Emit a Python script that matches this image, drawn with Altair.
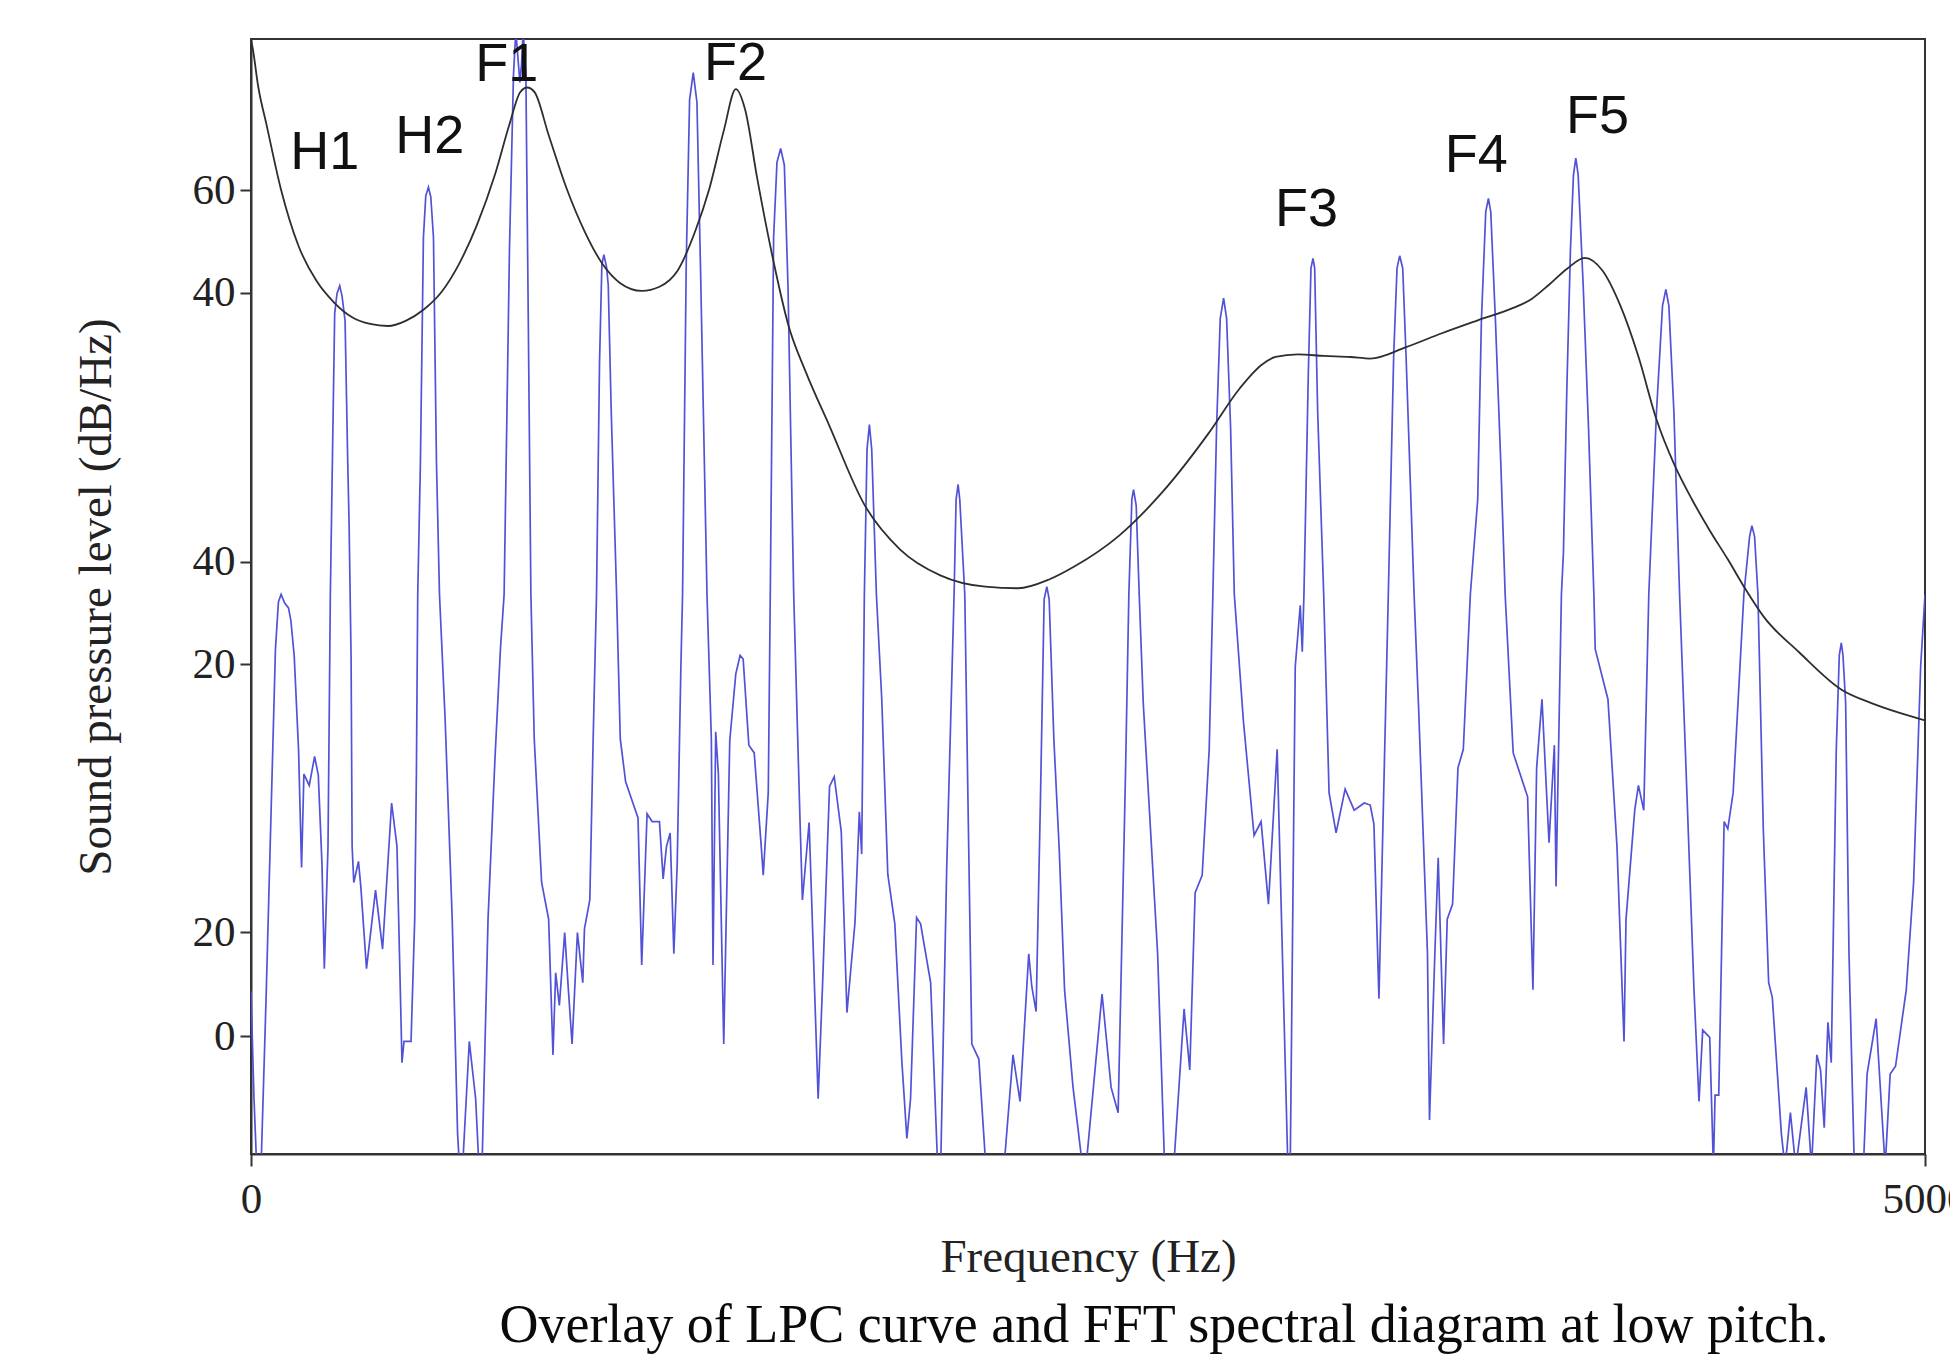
import altair as alt
import pandas as pd

# ---------------- data ----------------
# FFT spectrum (blue), frequency in Hz, level in the chart's vertical units
fft_freq = [
    0, 9, 17, 30, 45, 60, 73, 82, 90, 101,
    112, 119, 129, 142, 151, 158, 174, 190, 201, 212,
    219, 230, 237, 243, 250, 257, 265, 272, 281, 289,
    293, 299, 302, 307, 321, 328, 345, 372, 393, 420,
    436, 451, 457, 478, 489, 494, 498, 506, 515, 522,
    530, 537, 545, 554, 563, 580, 601, 617, 623, 633,
    652, 671, 681, 690, 708, 729, 745, 756, 772, 784,
    791, 799, 803, 808, 813, 821, 828, 836, 846, 868,
    889, 902, 910, 921, 937, 948, 959, 975, 991, 996,
    1012, 1022, 1032, 1041, 1048, 1054, 1062, 1067, 1076, 1092,
    1103, 1119, 1156, 1167, 1183, 1198, 1220, 1231, 1241, 1252,
    1263, 1273, 1284, 1289, 1300, 1310, 1321, 1332, 1343, 1362,
    1375, 1380, 1388, 1396, 1412, 1430, 1448, 1461, 1470, 1487,
    1503, 1524, 1530, 1545, 1551, 1561, 1571, 1582, 1593, 1604,
    1621, 1640, 1647, 1667, 1694, 1707, 1728, 1742, 1763, 1780,
    1804, 1817, 1824, 1832, 1840, 1847, 1854, 1868, 1884, 1902,
    1923, 1944, 1959, 1970, 1988, 2000, 2030, 2051, 2060, 2078,
    2100, 2106, 2112, 2117, 2132, 2142, 2153, 2174, 2195, 2249,
    2276, 2297, 2323, 2332, 2345, 2358, 2369, 2377, 2384, 2398,
    2414, 2430, 2455, 2484, 2494, 2542, 2569, 2590, 2612, 2622,
    2631, 2636, 2644, 2653, 2665, 2708, 2729, 2756, 2787, 2804,
    2820, 2841, 2862, 2873, 2884, 2895, 2905, 2914, 2926, 2937,
    2964, 2996, 3017, 3039, 3065, 3097, 3104, 3119, 3134, 3140,
    3145, 3158, 3166, 3172, 3177, 3186, 3204, 3220, 3241, 3268,
    3295, 3325, 3343, 3354, 3369, 3381, 3397, 3413, 3423, 3431,
    3440, 3450, 3474, 3488, 3514, 3520, 3536, 3546, 3562, 3573,
    3589, 3605, 3621, 3642, 3664, 3675, 3688, 3696, 3703, 3717,
    3733, 3746, 3770, 3813, 3829, 3840, 3856, 3877, 3893, 3898,
    3914, 3920, 3930, 3941, 3950, 3957, 3964, 3979, 3995, 4011,
    4015, 4053, 4080, 4101, 4107, 4133, 4144, 4160, 4175, 4198,
    4216, 4226, 4235, 4250, 4267, 4283, 4310, 4325, 4336, 4357,
    4368, 4373, 4384, 4400, 4411, 4427, 4459, 4476, 4483, 4491,
    4501, 4517, 4533, 4544, 4571, 4582, 4598, 4614, 4645, 4661,
    4677, 4688, 4699, 4710, 4720, 4735, 4744, 4750, 4755, 4763,
    4773, 4789, 4816, 4827, 4854, 4881, 4896, 4912, 4944, 4966,
    4987, 5000,
]
fft_level = [
    8.7, -12.1, -25.4, -25.4, 7.3, 43.5, 75.0, 84.2, 85.6, 83.9,
    83.0, 80.6, 73.8, 55.6, 32.7, 50.8, 48.6, 54.2, 50.6, 33.4,
    13.1, 36.8, 85.6, 111.0, 140.1, 143.9, 145.4, 143.4, 138.6, 111.0,
    99.2, 73.1, 36.8, 29.8, 33.9, 29.0, 13.1, 28.3, 16.9, 45.2,
    36.8, -5.1, -1.0, -1.0, 22.7, 50.8, 85.6, 111.0, 154.8, 162.8,
    164.5, 162.6, 154.8, 111.0, 85.6, 61.2, 22.7, -18.9, -25.4, -24.2,
    -1.0, -12.1, -25.4, -25.4, 22.7, 54.2, 75.0, 85.6, 152.4, 186.3,
    194.7, 188.2, 184.8, 188.2, 194.7, 186.3, 140.3, 85.6, 57.6, 29.8,
    22.7, -3.6, 12.3, 6.0, 20.1, 9.0, -1.5, 20.1, 10.4, 20.8,
    26.4, 57.6, 85.6, 130.6, 149.5, 151.4, 149.0, 145.6, 121.0, 85.6,
    57.6, 49.3, 42.3, 13.8, 43.1, 41.6, 41.6, 30.5, 36.8, 39.4,
    16.0, 33.4, 71.6, 85.6, 149.7, 181.4, 186.7, 180.9, 147.6, 85.6,
    57.6, 13.8, 59.0, 50.8, -1.5, 57.3, 70.2, 73.8, 73.1, 56.4,
    54.9, 36.8, 31.2, 47.2, 85.6, 154.8, 169.3, 172.0, 168.8, 145.1,
    85.6, 41.4, 26.4, 41.4, -12.1, 9.7, 48.4, 50.3, 39.7, 4.6,
    22.0, 43.5, 35.3, 85.6, 113.7, 118.5, 113.7, 85.6, 65.3, 31.4,
    21.8, -4.8, -19.8, -12.1, 23.0, 21.8, 10.4, -25.4, -25.4, 32.7,
    85.6, 104.0, 106.9, 104.0, 85.6, 43.5, -1.5, -4.4, -25.4, -25.4,
    -3.6, -12.6, 16.0, 9.7, 4.8, 46.0, 84.7, 87.1, 84.7, 57.6,
    36.3, 9.0, -9.7, -25.4, -25.4, 8.2, -9.9, -14.8, 50.8, 85.6,
    104.0, 105.9, 102.8, 85.6, 64.6, 16.0, -25.4, -25.4, 5.3, -6.5,
    27.8, 31.2, 55.6, 85.6, 117.8, 139.1, 143.0, 139.1, 117.8, 85.6,
    61.2, 38.9, 41.6, 25.6, 55.6, -25.4, -25.4, 71.6, 83.5, 74.5,
    85.6, 128.2, 148.8, 150.7, 148.8, 121.0, 85.6, 47.2, 39.4, 47.9,
    43.8, 45.2, 44.8, 41.1, 7.3, 41.1, 85.6, 131.8, 148.8, 151.2,
    148.8, 131.8, 85.6, 62.7, 16.0, -16.2, 16.0, 34.6, -1.5, 22.7,
    25.6, 52.0, 55.6, 85.6, 104.0, 138.6, 159.7, 162.3, 159.7, 138.6,
    111.0, 85.6, 54.9, 46.4, 9.0, 52.0, 65.3, 37.5, 56.4, 29.0,
    85.6, 93.6, 124.8, 152.4, 166.9, 170.1, 166.9, 145.6, 117.8, 85.6,
    75.0, 65.3, 36.8, -1.0, 22.7, 43.8, 48.6, 43.8, 85.6, 121.0,
    141.5, 144.7, 141.5, 121.0, 85.6, 57.6, 9.0, -12.6, 1.2, -0.2,
    -25.4, -11.4, -11.4, 41.6, 40.2, 47.2, 85.6, 96.8, 98.9, 96.8,
    85.6, 40.2, 10.4, 7.5, -18.9, -25.4, -14.8, -25.4, -9.9, -25.4,
    -3.6, -6.5, -17.7, 2.7, -5.1, 55.6, 73.8, 76.2, 73.8, 64.6,
    16.0, -25.4, -25.4, -7.3, 3.4, -25.4, -7.3, -5.8, 9.0, 29.8,
    71.6, 85.6,
]

# LPC envelope (black)
lpc_freq = [
    0, 4, 22, 46, 89, 142, 196, 249, 302, 356,
    409, 462, 516, 569, 622, 675, 729, 772, 804, 825,
    847, 889, 943, 996, 1049, 1103, 1167, 1220, 1274, 1327,
    1369, 1412, 1448, 1476, 1512, 1562, 1604, 1657, 1726, 1832,
    1939, 2059, 2193, 2291, 2384, 2459, 2593, 2726, 2860, 2953,
    3019, 3060, 3127, 3205, 3284, 3343, 3450, 3557, 3664, 3770,
    3824, 3877, 3931, 3984, 4037, 4091, 4144, 4197, 4251, 4304,
    4357, 4411, 4464, 4518, 4624, 4752, 4838, 4922, 5000,
]
lpc_level = [
    193.0, 191.8, 183.8, 176.7, 164.2, 153.1, 146.3, 142.1, 139.3, 138.0,
    137.6, 138.6, 140.8, 144.2, 149.7, 157.2, 167.0, 176.7, 182.9, 183.8,
    182.9, 174.6, 164.2, 156.0, 149.7, 145.9, 144.4, 145.2, 148.3, 156.0,
    164.2, 175.4, 183.5, 179.5, 166.2, 149.7, 138.0, 128.7, 118.5, 103.0,
    94.3, 89.3, 87.1, 86.8, 88.5, 91.0, 97.0, 105.7, 116.8, 125.5,
    130.1, 131.6, 132.1, 131.8, 131.6, 131.3, 133.5, 136.2, 138.7, 141.1,
    142.8, 145.6, 148.7, 150.8, 148.3, 141.4, 131.7, 119.7, 110.8, 104.0,
    98.0, 92.4, 86.6, 81.3, 74.4, 67.1, 64.6, 62.7, 61.2,
]

# peak annotations
label_text = ["H1", "H2", "F1", "F2", "F3", "F4", "F5"]
label_freq = [220, 534, 764, 1447, 3153, 3660, 4022]
label_level = [168.1, 171.2, 185.1, 185.3, 157.0, 167.4, 175.0]

# axis ticks (the reference prints these labels at these positions)
ytick_values = [0, 20.2, 72.1, 91.9, 144.0, 163.9]
ytick_labels = ["0", "20", "20", "40", "40", "60"]
xtick_values = [0, 5000]

caption_text = "Overlay of LPC curve and FFT spectral diagram at low pitch."

# ---------------- chart ----------------
fft = pd.DataFrame({"freq": fft_freq, "level": fft_level})
lpc = pd.DataFrame({"freq": lpc_freq, "level": lpc_level})
labels = pd.DataFrame({"freq": label_freq, "level": label_level, "text": label_text})
caption = pd.DataFrame({"text": [caption_text]})

label_expr = "''"
for v, lab in reversed(list(zip(ytick_values, ytick_labels))):
    label_expr = f"abs(datum.value - {v}) < 1 ? '{lab}' : ({label_expr})"

W, H = 1674, 1115

x_enc = alt.X(
    "freq:Q",
    scale=alt.Scale(domain=[0, 5000], nice=False, zero=False),
    axis=alt.Axis(
        values=xtick_values, title="Frequency (Hz)", format="d",
        labelFlush=False, labelOverlap=False, tickSize=12,
        labelPadding=46, labelBaseline="alphabetic",
        titleX=W / 2, titleY=117, titleAlign="center",
        titleBaseline="alphabetic", titleAngle=0,
    ),
)
y_enc = alt.Y(
    "level:Q",
    scale=alt.Scale(domain=[-22.8, 193.2], nice=False, zero=False),
    axis=alt.Axis(
        values=ytick_values, labelExpr=label_expr,
        title="Sound pressure level (dB/Hz)", labelOverlap=False,
        tickSize=11, labelPadding=5,
        titleX=-141, titleY=H / 2, titleAngle=270, titleAlign="center",
        titleBaseline="alphabetic",
    ),
)

fft_line = alt.Chart(fft).mark_line(
    color="#5252d8", strokeWidth=1.7, clip=True, interpolate="linear"
).encode(x=x_enc, y=y_enc)

lpc_line = alt.Chart(lpc).mark_line(
    color="#2e2e2e", strokeWidth=1.8, clip=True, interpolate="monotone"
).encode(x=x_enc, y=y_enc)

peak_text = alt.Chart(labels).mark_text(
    font="Liberation Sans", fontSize=54, align="center",
    baseline="alphabetic", color="#111111",
).encode(x=x_enc, y=y_enc, text="text:N")

caption_mark = alt.Chart(caption).mark_text(
    font="Liberation Serif", fontSize=54, align="center",
    baseline="alphabetic", color="#0a0a0a",
).encode(x=alt.value(913), y=alt.value(1303), text="text:N")

chart = (
    alt.layer(fft_line, lpc_line, peak_text, caption_mark)
    .properties(
        width=W, height=H,
        padding={"left": 243, "top": 31, "right": 25, "bottom": 201},
        autosize=alt.AutoSizeParams(type="none"),
        background="white",
    )
    .configure_view(stroke="#333333", strokeWidth=2)
    .configure_axis(
        grid=False, domainColor="#333333", domainWidth=2,
        tickColor="#333333", tickWidth=2,
        labelFont="Liberation Serif", labelFontSize=43, labelColor="#222222",
        titleFont="Liberation Serif", titleFontSize=47,
        titleFontWeight="normal", titleColor="#222222",
    )
)

chart.save("out.html", embed_options={"renderer": "svg", "actions": False})
